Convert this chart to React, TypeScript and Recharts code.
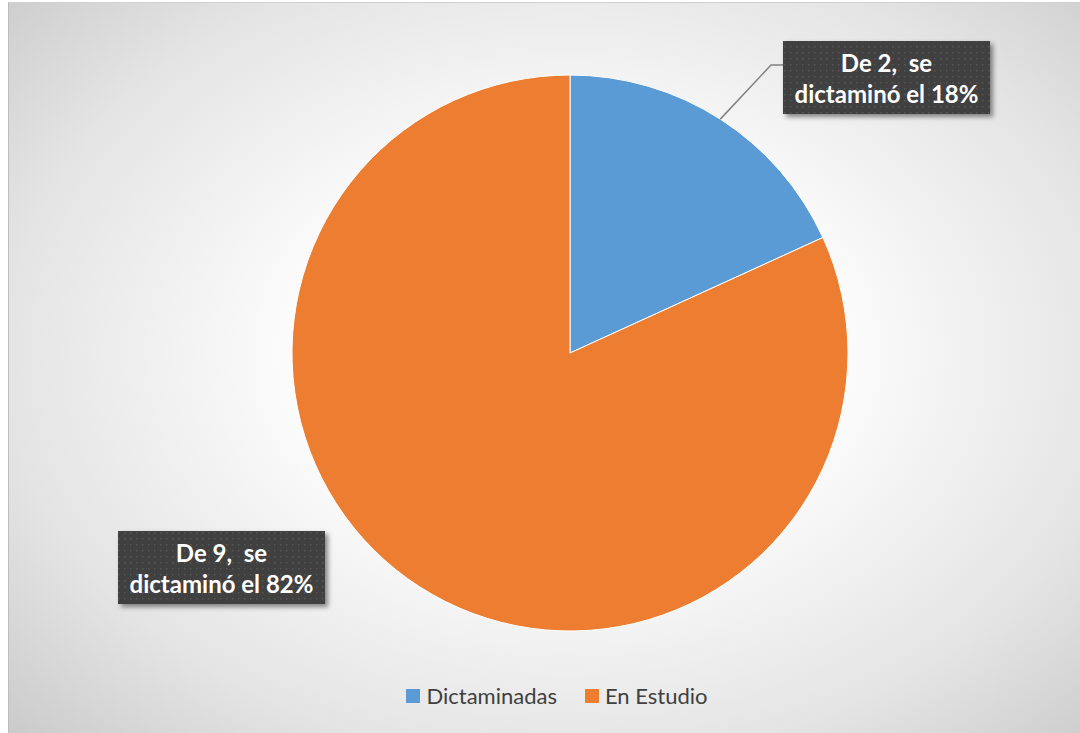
import React from "react";
import { PieChart, Pie, Cell } from "recharts";

const categories = ["Dictaminadas", "En Estudio"];
const values = [2, 9];
const percentLabels = ["18%", "82%"];
const colors = ["#5B9BD5", "#ED7D31"];

const data = categories.map((name, i) => ({ name, value: values[i] }));

const W = 1072;
const H = 731;
const FONT = "Lato, 'Open Sans', sans-serif";

const renderLabel = (props: any) => {
  const { cx, cy, outerRadius, midAngle, index } = props;
  const RAD = Math.PI / 180;
  const ex = cx + outerRadius * Math.cos(-midAngle * RAD);
  const ey = cy + outerRadius * Math.sin(-midAngle * RAD);
  const bw = 207;
  const bh = 73;
  let bx: number, by: number;
  let line: React.ReactNode = null;
  if (index === 0) {
    bx = cx + 213;
    by = cy - 312;
    const kx = bx - 12;
    const ky = by + 24;
    line = (
      <polyline
        points={`${ex},${ey} ${kx},${ky} ${bx},${ky}`}
        fill="none"
        stroke="#808080"
        strokeWidth={1.5}
      />
    );
  } else {
    bx = cx - 452;
    by = cy + 178;
  }
  const tx = bx + bw / 2;
  return (
    <g key={`lbl-${index}`}>
      {line}
      <rect x={bx} y={by} width={bw} height={bh} fill="url(#dots)" filter="url(#shadow)" />
      <text
        x={tx}
        y={by + 31}
        textAnchor="middle"
        fill="#ffffff"
        fontFamily={FONT}
        fontWeight={700}
        fontSize={24}
        style={{ whiteSpace: "pre" }}
      >
        {`De ${values[index]},  se`}
      </text>
      <text
        x={tx}
        y={by + 62}
        textAnchor="middle"
        fill="#ffffff"
        fontFamily={FONT}
        fontWeight={700}
        fontSize={24}
      >
        {`dictaminó el ${percentLabels[index]}`}
      </text>
    </g>
  );
};

export default function App() {
  return (
    <div
      style={{
        position: "absolute",
        left: 8,
        top: 2,
        width: W,
        height: H,
        background:
          "radial-gradient(ellipse 75% 80% at 52% 48%, #ffffff 0%, #fbfbfb 35%, #e4e4e4 70%, #c6c6c6 100%)",
        borderLeft: "1px solid #bdbdbd",
        borderTop: "1px solid #d0d0d0",
        boxSizing: "border-box",
      }}
    >
      <PieChart width={W} height={H} style={{ position: "absolute", left: -1, top: -1 }}>
        <defs>
          <pattern id="dots" width="6" height="6" patternUnits="userSpaceOnUse">
            <rect width="6" height="6" fill="#3f3f3f" />
            <rect x="2" y="2" width="1.5" height="1.5" fill="#575757" />
          </pattern>
          <filter id="shadow" x="-10%" y="-20%" width="130%" height="150%">
            <feDropShadow dx="3" dy="3" stdDeviation="2.5" floodColor="#000" floodOpacity="0.45" />
          </filter>
        </defs>
        <Pie
          data={data}
          dataKey="value"
          nameKey="name"
          cx={557}
          cy={346}
          outerRadius={278}
          startAngle={90}
          endAngle={-270}
          stroke="#ffffff"
          strokeWidth={1}
          label={renderLabel}
          labelLine={false}
          isAnimationActive={false}
        >
          {data.map((d, i) => (
            <Cell key={d.name} fill={colors[i]} />
          ))}
        </Pie>
      </PieChart>
      <div
        style={{
          position: "absolute",
          top: 679,
          left: 0,
          width: W,
          display: "flex",
          justifyContent: "center",
          alignItems: "center",
          fontFamily: FONT,
          fontSize: 22,
          color: "#404040",
          paddingLeft: 24,
          boxSizing: "border-box",
        }}
      >
        {categories.map((c, i) => (
          <div key={c} style={{ display: "flex", alignItems: "center", marginRight: i === 0 ? 28 : 0 }}>
            <span style={{ display: "inline-block", width: 14, height: 14, background: colors[i], marginRight: 6 }} />
            <span>{c}</span>
          </div>
        ))}
      </div>
    </div>
  );
}
